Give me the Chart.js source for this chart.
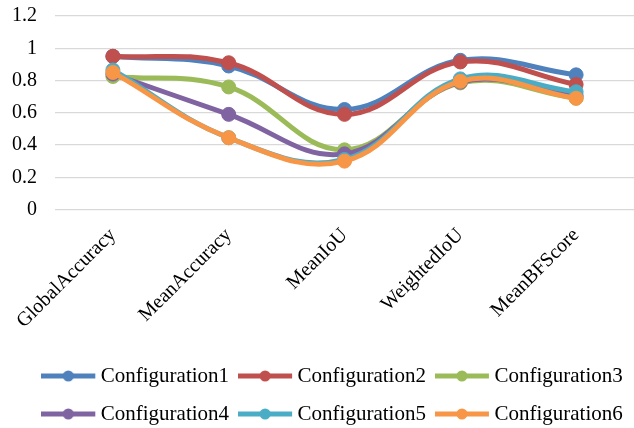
<!DOCTYPE html>
<html>
<head>
<meta charset="utf-8">
<script src="https://cdn.jsdelivr.net/npm/chart.js@4.4.1/dist/chart.umd.min.js"></script>
<style>
  html, body { margin: 0; padding: 0; background: #ffffff; overflow: hidden; }
  #wrap { width: 634px; height: 428px; position: relative; }
</style>
</head>
<body>
<div id="wrap"><canvas id="chart"></canvas></div>
<script>
// Evaluation metrics on the x axis
const categories = ['GlobalAccuracy', 'MeanAccuracy', 'MeanIoU', 'WeightedIoU', 'MeanBFScore'];

// Scores per configuration, one value per metric
const configuration1 = [0.95, 0.89, 0.62, 0.925, 0.835];
const configuration2 = [0.95, 0.91, 0.59, 0.915, 0.775];
const configuration3 = [0.825, 0.76, 0.37, 0.785, 0.69];
const configuration4 = [0.84, 0.59, 0.345, 0.79, 0.705];
const configuration5 = [0.865, 0.445, 0.31, 0.81, 0.73];
const configuration6 = [0.85, 0.445, 0.30, 0.795, 0.69];

const seriesNames = ['Configuration1', 'Configuration2', 'Configuration3',
                     'Configuration4', 'Configuration5', 'Configuration6'];
const seriesValues = [configuration1, configuration2, configuration3,
                      configuration4, configuration5, configuration6];
const seriesColors = ['#4F81BD', '#C0504D', '#9BBB59', '#8064A2', '#4BACC6', '#F79646'];

// Y axis: 0 to 1.2 in steps of 0.2
const yMin = 0;
const yMax = 1.2;
const yStep = 0.2;

const FONT = "'Liberation Serif', 'Times New Roman', serif";
const BOX_W = 41;

// Legend swatch: thick line with a dot in the middle
function legendSwatch(color) {
  const c = document.createElement('canvas');
  c.width = BOX_W + 16;
  c.height = 16;
  const g = c.getContext('2d');
  g.strokeStyle = color;
  g.lineWidth = 5;
  g.beginPath();
  g.moveTo(0, 8);
  g.lineTo(BOX_W + 13, 8);
  g.stroke();
  g.fillStyle = color;
  g.beginPath();
  g.arc((BOX_W + 13) / 2, 8, 5.5, 0, Math.PI * 2);
  g.fill();
  return c;
}
const swatches = seriesColors.map(legendSwatch);

const datasets = seriesNames.map((name, i) => ({
  label: name,
  data: seriesValues[i],
  borderColor: seriesColors[i],
  backgroundColor: seriesColors[i],
  pointBackgroundColor: seriesColors[i],
  pointBorderColor: seriesColors[i],
  borderWidth: 5,
  pointRadius: 7,
  pointBorderWidth: 1,
  tension: 0.4,
  fill: false,
  // later series are painted above earlier ones
  order: seriesNames.length - i
}));

const whiteBg = {
  id: 'whiteBg',
  beforeDraw(chart) {
    const { ctx, width, height } = chart;
    ctx.save();
    ctx.fillStyle = '#ffffff';
    ctx.fillRect(0, 0, width, height);
    ctx.restore();
  }
};

// Nudge the legend block a little to the right of centre
const legendShift = {
  id: 'legendShift',
  afterLayout(chart) {
    const lg = chart.legend;
    if (lg) { lg.left += 19; lg.right += 19; }
  }
};

new Chart(document.getElementById('chart'), {
  type: 'line',
  data: { labels: categories, datasets },
  plugins: [whiteBg, legendShift],
  options: {
    responsive: true,
    maintainAspectRatio: false,
    animation: false,
    events: [],
    layout: { autoPadding: false, padding: { top: 16, right: 0, left: 0, bottom: -6.5 } },
    scales: {
      x: {
        offset: true,
        // hidden tick marks keep the rotated labels clear of the plot
        grid: { display: false, drawTicks: true, tickLength: 14 },
        border: { display: false },
        ticks: {
          color: '#000000',
          font: { family: FONT, size: 20 },
          minRotation: 45,
          maxRotation: 45,
          padding: 0,
          labelOffset: 0
        },
        afterFit(scale) {
          scale.height = 139;
          scale.paddingLeft = 0;
          scale.paddingRight = 0;
        }
      },
      y: {
        min: yMin,
        max: yMax,
        grid: { color: '#D9D9D9', lineWidth: 1.3, drawTicks: false },
        border: { display: false },
        ticks: {
          stepSize: yStep,
          color: '#000000',
          font: { family: FONT, size: 20 },
          padding: 18,
          callback: (v) => String(Math.round(v * 10) / 10)
        },
        afterFit(scale) {
          scale.width = 55;
          scale.paddingTop = 0;
          scale.paddingBottom = 0;
        }
      }
    },
    plugins: {
      tooltip: { enabled: false },
      legend: {
        position: 'bottom',
        labels: {
          usePointStyle: true,
          pointStyleWidth: BOX_W,
          padding: 17,
          color: '#000000',
          font: { family: FONT, size: 21 },
          generateLabels(chart) {
            const items = Chart.defaults.plugins.legend.labels.generateLabels(chart);
            items.forEach((it) => { it.pointStyle = swatches[it.datasetIndex]; });
            return items;
          },
          sort: (a, b) => a.datasetIndex - b.datasetIndex
        }
      }
    }
  }
});
</script>
</body>
</html>
